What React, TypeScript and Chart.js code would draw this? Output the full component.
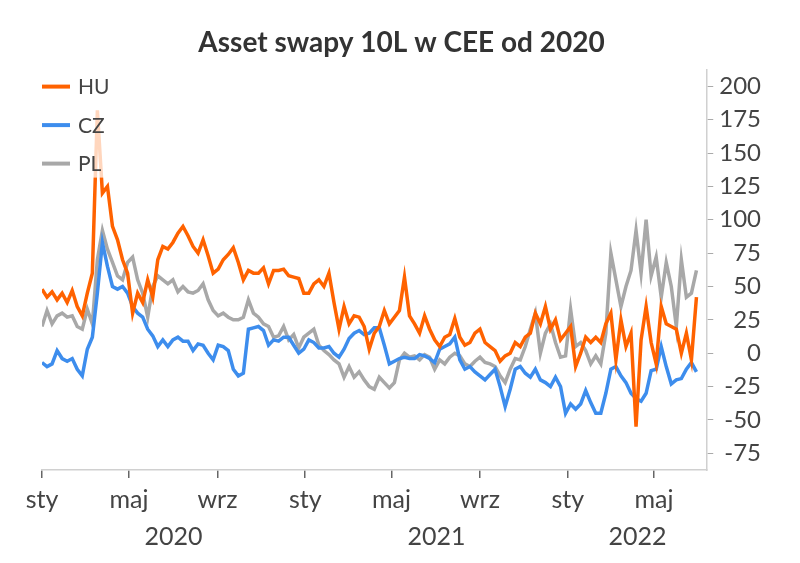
import React, { useEffect, useRef } from "react";
import { Chart, registerables } from "chart.js";

Chart.register(...registerables);

const chartTitle = "Asset swapy 10L w CEE od 2020";
const seriesNames = ["HU", "CZ", "PL"];
const seriesColors = ["#ff6200", "#3d8ded", "#a8a8a8"];

// weekly observations, starting 1 Jan 2020 (day 0), one value per 7 days
const sampleStepDays = 7;

const huValues = [
  48, 42, 46, 40, 45, 38, 47, 35, 28, 45,
  60, 182, 120, 125, 95, 85, 70, 60, 30, 45,
  38, 55, 42, 70, 80, 78, 83, 90, 95, 88,
  80, 75, 85, 73, 60, 63, 70, 74, 79, 68,
  55, 62, 60, 60, 64, 52, 62, 62, 63, 58,
  57, 56, 45, 45, 52, 55, 50, 60, 38, 18,
  35, 22, 28, 27, 20, 3, 15, 20, 32, 22,
  27, 32, 57, 28, 22, 15, 28, 18, 10, 5,
  12, 14, 26, 12, 6, 8, 15, 18, 8, 5,
  2, -6, -2, 0, 8, 5, 12, 15, 30, 22,
  35, 18, 25, 10, 15, 20, -10, 0, 12, 8,
  12, 8, 22, 30, -5, 25, 5, 15, -55, 10,
  35, 8, -8, 35, 22, 20, 18, 0, 15, -5,
  42,
];

const czValues = [
  -7, -10, -8, 2, -4, -6, -4, -12, -17, 3,
  12, 45, 83, 65, 50, 48, 50, 45, 35, 30,
  27, 18, 13, 5, 10, 5, 10, 12, 9, 9,
  2, 7, 6, 0, -5, 6, 5, 2, -12, -17,
  -15, 18, 19, 20, 17, 6, 10, 9, 12, 12,
  6, 0, 3, 10, 8, 4, 4, 5, 0, -3,
  3, 11, 15, 17, 14, 15, 19, 19, 6, -8,
  -6, -4, -3, -4, -4, -1, -2, -4, -7, 3,
  5, 7, 12, -5, -12, -10, -14, -17, -20, -16,
  -12, -25, -40, -27, -12, -10, -15, -18, -12, -20,
  -22, -25, -18, -25, -45, -38, -42, -38, -28, -37,
  -45, -45, -30, -12, -10, -17, -22, -30, -34, -36,
  -30, -13, -12, 5, -10, -23, -20, -19, -12, -7,
  -14,
];

const plValues = [
  20, 32, 22, 28, 30, 27, 28, 20, 18, 33,
  22, 70, 92, 78, 68, 58, 55, 68, 72, 55,
  45, 27, 50, 58, 55, 52, 55, 46, 50, 46,
  45, 47, 52, 40, 32, 28, 30, 27, 25, 25,
  27, 40, 30, 27, 22, 20, 12, 13, 20, 10,
  14, 4, 12, 15, 18, 6, 2, -1, -5, -8,
  -18, -10, -18, -14, -20, -25, -27, -18, -22, -26,
  -22, -5, 0, -3, -2, -5, -1, -3, -12, -5,
  -8, -3, 0, -2, -8, -10, -6, -3, -7, -8,
  -10, -17, -22, -12, -4, -5, 5, 18, 30, 0,
  15, 22, 8, -3, -2, 33, 5, 8, 2, -8,
  -2, -8, 15, 75, 55, 35, 50, 62, 92, 60,
  100, 58, 72, 42, 68, 50, 20, 70, 42, 45,
  62,
];

// x axis (days since 1 Jan 2020)
const monthTickDays = [0, 121, 244, 366, 486, 609, 731, 851];
const monthTickLabels = ["sty", "maj", "wrz", "sty", "maj", "wrz", "sty", "maj"];
const yearCenterDays = [183, 548.5, 828];
const yearLabels = ["2020", "2021", "2022"];
const xMinDay = 0;
const xMaxDay = 925;

// y axis
const yTickValues = [-75, -50, -25, 0, 25, 50, 75, 100, 125, 150, 175, 200];
const yMin = -87.5;
const yMax = 212.5;

const allSeries = [huValues, czValues, plValues];

const insideLegend = {
  id: "insideLegend",
  afterDatasetsDraw(chart: any) {
    const { ctx, chartArea } = chart;
    ctx.save();
    ctx.fillStyle = "rgba(255,255,255,0.74)";
    ctx.fillRect(chartArea.left - 5, chartArea.top, 83, 108);
    ctx.font = "21px Lato";
    ctx.textBaseline = "middle";
    ctx.textAlign = "left";
    chart.data.datasets.forEach((ds: any, i: number) => {
      const y = chartArea.top + 17 + i * 38.5;
      ctx.strokeStyle = ds.borderColor;
      ctx.lineWidth = 4;
      ctx.beginPath();
      ctx.moveTo(chartArea.left, y);
      ctx.lineTo(chartArea.left + 28, y);
      ctx.stroke();
      ctx.fillStyle = "#444";
      ctx.fillText(ds.label, chartArea.left + 36, y + 1);
    });
    ctx.restore();
  },
};

export default function App() {
  const canvasRef = useRef<HTMLCanvasElement | null>(null);

  useEffect(() => {
    document.body.style.margin = "0";
    const canvas = canvasRef.current;
    if (!canvas) return;

    const datasets = allSeries.map((vals, si) => ({
      label: seriesNames[si],
      data: vals.map((v, i) => ({ x: i * sampleStepDays, y: v })),
      borderColor: seriesColors[si],
      backgroundColor: seriesColors[si],
      borderWidth: 3.5,
      pointRadius: 0,
      tension: 0,
      fill: false,
      xAxisID: "x",
      yAxisID: "y",
    }));

    const chart = new Chart(canvas, {
      type: "line",
      data: { datasets },
      plugins: [insideLegend],
      options: {
        animation: false,
        responsive: true,
        maintainAspectRatio: false,
        layout: { padding: { left: 42, right: 39, top: 0, bottom: 11 } },
        plugins: {
          legend: { display: false },
          tooltip: { enabled: false },
          title: {
            display: true,
            text: chartTitle,
            color: "#333",
            font: { family: "Lato", size: 28, weight: "bold" },
            padding: { top: 26, bottom: 10 },
          },
        },
        scales: {
          x: {
            type: "linear",
            position: "bottom",
            min: xMinDay,
            max: xMaxDay,
            weight: 0,
            afterBuildTicks: (axis: any) => {
              axis.ticks = monthTickDays.map((d) => ({ value: d }));
            },
            grid: {
              display: true,
              drawOnChartArea: false,
              drawTicks: true,
              tickLength: 8,
              color: "#666",
              lineWidth: 1.5,
            },
            border: { display: true, color: "#d0d0d0", width: 1.5 },
            ticks: {
              autoSkip: false,
              maxRotation: 0,
              padding: 7,
              color: "#444",
              font: { family: "Lato", size: 25 },
              callback: (v: any) => {
                const k = monthTickDays.indexOf(Number(v));
                return k >= 0 ? monthTickLabels[k] : "";
              },
            },
          },
          x2: {
            type: "linear",
            position: "bottom",
            min: xMinDay,
            max: xMaxDay,
            weight: 1,
            afterBuildTicks: (axis: any) => {
              axis.ticks = yearCenterDays.map((d) => ({ value: d }));
            },
            grid: { display: false, drawTicks: false, drawOnChartArea: false },
            border: { display: false },
            ticks: {
              autoSkip: false,
              maxRotation: 0,
              padding: 0,
              color: "#444",
              font: { family: "Lato", size: 25 },
              callback: (v: any) => {
                const k = yearCenterDays.indexOf(Number(v));
                return k >= 0 ? yearLabels[k] : "";
              },
            },
          },
          y: {
            type: "linear",
            position: "right",
            min: yMin,
            max: yMax,
            afterBuildTicks: (axis: any) => {
              axis.ticks = yTickValues.map((v) => ({ value: v }));
            },
            grid: {
              display: true,
              drawOnChartArea: false,
              drawTicks: true,
              tickLength: 6,
              color: "#aaa",
            },
            border: { display: true, color: "#d0d0d0", width: 1.5 },
            ticks: {
              padding: 3,
              crossAlign: "far",
              color: "#444",
              font: { family: "Lato", size: 24 },
              callback: (v: any) => String(v),
            },
          },
        },
      },
    } as any);

    return () => chart.destroy();
  }, []);

  return (
    <div style={{ width: 800, height: 563, position: "relative", background: "#fff" }}>
      <canvas ref={canvasRef} />
    </div>
  );
}
